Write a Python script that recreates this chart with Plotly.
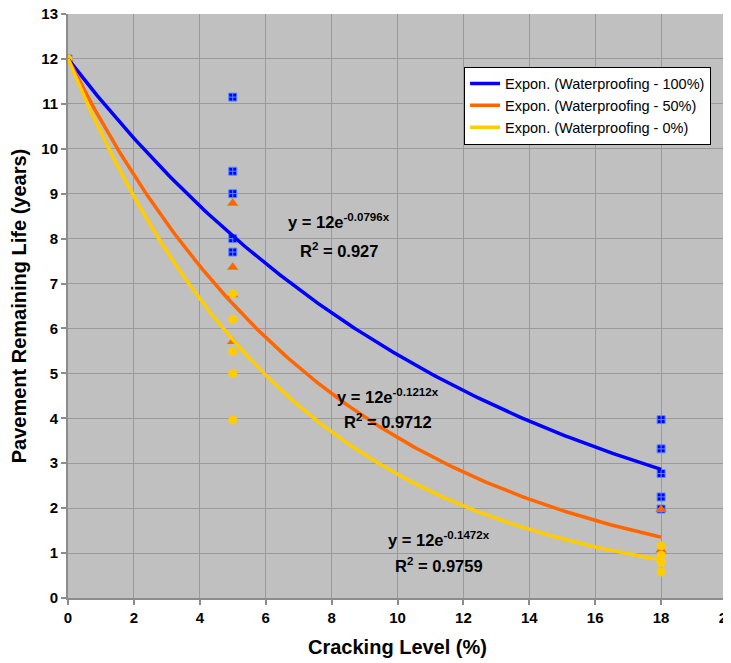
import numpy as np
import plotly.graph_objects as go

# Observed data points
x_obs_100 = [0, 5, 5, 5, 5, 5, 18, 18, 18, 18, 18]
y_obs_100 = [12, 11.15, 9.5, 9.0, 8.0, 7.7, 3.97, 3.32, 2.77, 2.25, 1.98]

x_obs_50 = [0, 5, 5, 5, 5, 18, 18]
y_obs_50 = [12, 8.79, 7.36, 6.75, 5.71, 1.97, 1.07]

x_obs_0 = [0, 5, 5, 5, 5, 5, 18, 18, 18, 18]
y_obs_0 = [12, 6.77, 6.2, 5.48, 5.0, 3.96, 1.16, 0.95, 0.79, 0.58]

# Exponential trendline coefficients (y = a * exp(b x))
trend_names = ["Expon. (Waterproofing - 100%)", "Expon. (Waterproofing - 50%)", "Expon. (Waterproofing - 0%)"]
trend_a = [12, 12, 12]
trend_b = [-0.0796, -0.1212, -0.1472]
trend_r2 = ["0.927", "0.9712", "0.9759"]
trend_range = [0, 18]

x_ticks = [0, 2, 4, 6, 8, 10, 12, 14, 16, 18, 20]
y_ticks = list(range(0, 14))

BLUE = "#0000FF"
ORANGE = "#FF6600"
YELLOW = "#FFCC00"
colors = [BLUE, ORANGE, YELLOW]
FONT = "Liberation Sans, Arial, sans-serif"

fig = go.Figure()

fig.add_trace(go.Scatter(x=x_obs_100, y=y_obs_100, mode="markers", showlegend=False,
                         marker=dict(symbol="square-cross", size=8, color=BLUE,
                                     line=dict(color="#5A8CFF", width=1))))
fig.add_trace(go.Scatter(x=x_obs_50, y=y_obs_50, mode="markers", showlegend=False,
                         marker=dict(symbol="triangle-up", size=10, color=ORANGE, line=dict(width=0))))
fig.add_trace(go.Scatter(x=x_obs_0, y=y_obs_0, mode="markers", showlegend=False,
                         marker=dict(symbol="circle", size=9, color=YELLOW, line=dict(width=0))))

xs = np.linspace(trend_range[0], trend_range[1], 200)
for name, a, b, c in zip(trend_names, trend_a, trend_b, colors):
    fig.add_trace(go.Scatter(x=xs, y=a * np.exp(b * xs), mode="lines", name=name,
                             line=dict(color=c, width=3.5)))

# Equation annotations
eq_pos = [(8.21, 8.40, 7.75), (9.70, 4.50, 3.94), (11.26, 1.32, 0.73)]
for (xp, ye, yr), a, b, r2 in zip(eq_pos, trend_a, trend_b, trend_r2):
    fig.add_annotation(x=xp, y=ye, xref="x", yref="y", showarrow=False,
                       text=f"<b>y = {a}e<sup>{b}x</sup></b>",
                       font=dict(family=FONT, size=16.5, color="black"))
    fig.add_annotation(x=xp, y=yr, xref="x", yref="y", showarrow=False,
                       text=f"<b>R<sup>2</sup> = {r2}</b>",
                       font=dict(family=FONT, size=16.5, color="black"))

axis_common = dict(showgrid=True, gridcolor="#9A9A9A", gridwidth=1,
                   showline=True, linecolor="#8C8C8C", linewidth=2,
                   ticks="outside", tickcolor="#8C8C8C", tickwidth=2, ticklen=5,
                   zeroline=False, automargin=False, ticklabeloverflow="allow",
                   tickfont=dict(family=FONT, size=15, color="black", weight="bold"))

fig.update_xaxes(range=[0, 20], tickvals=x_ticks, ticktext=[str(t) for t in x_ticks],
                 title=dict(text="<b>Cracking Level (%)</b>",
                            font=dict(family=FONT, size=20, color="black")),
                 **axis_common)
fig.update_yaxes(range=[0, 13], tickvals=y_ticks, ticktext=[str(t) for t in y_ticks],
                 title=dict(text="<b>Pavement Remaining Life (years)</b>",
                            font=dict(family=FONT, size=20, color="black")),
                 **axis_common)

# The page body adds an 8px offset, so the figure is sized to fit inside the window.
fig.update_layout(
    width=723, height=655,
    margin=dict(l=60, r=4, t=6, b=65, autoexpand=False),
    plot_bgcolor="#C0C0C0", paper_bgcolor="white",
    font=dict(family=FONT, color="black"),
    legend=dict(x=0.601, y=0.91, xanchor="left", yanchor="top",
                bgcolor="white", bordercolor="black", borderwidth=1,
                font=dict(family=FONT, size=14.5, color="black"),
                itemwidth=30, tracegroupgap=0),
)

fig.write_html("out.html")
